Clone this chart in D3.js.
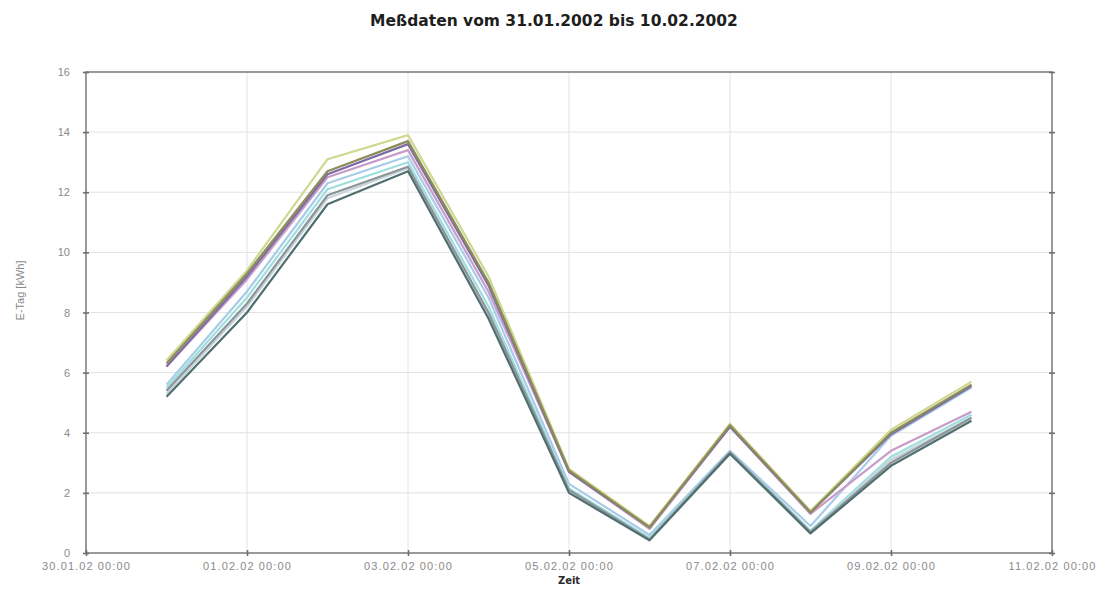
<!DOCTYPE html>
<html>
<head>
<meta charset="utf-8">
<script src="https://cdn.jsdelivr.net/npm/d3@7"></script>
<style>
  html, body { margin: 0; padding: 0; background: #fff; }
  svg { display: block; }
</style>
</head>
<body>
<svg id="chart" width="1101" height="603"></svg>
<script>
// Messtage (täglich 00:00)
const days = ["31.01.2002", "01.02.2002", "02.02.2002", "03.02.2002", "04.02.2002",
              "05.02.2002", "06.02.2002", "07.02.2002", "08.02.2002", "09.02.2002", "10.02.2002"];

// Tagesertrag je Wechselrichter in kWh
const wr1 = [6.4, 9.4, 13.1, 13.9, 9.2, 2.8, 0.9, 4.3, 1.4, 4.1, 5.7];
const wr2 = [6.3, 9.3, 12.7, 13.7, 9.0, 2.75, 0.85, 4.25, 1.35, 4.0, 5.6];
const wr3 = [6.2, 9.2, 12.6, 13.6, 8.9, 2.7, 0.85, 4.2, 1.35, 3.95, 5.55];
const wr4 = [6.2, 9.1, 12.5, 13.4, 8.7, 2.7, 0.8, 4.2, 1.3, 3.4, 4.7];
const wr5 = [5.6, 8.7, 12.3, 13.2, 8.5, 2.3, 0.6, 3.4, 0.9, 3.9, 5.5];
const wr6 = [5.5, 8.5, 12.1, 13.0, 8.2, 2.15, 0.5, 3.35, 0.75, 3.2, 4.6];
const wr7 = [5.4, 8.3, 11.9, 12.85, 8.0, 2.1, 0.45, 3.35, 0.7, 3.0, 4.5];
const wr8 = [5.3, 8.2, 11.8, 12.8, 7.9, 2.05, 0.45, 3.3, 0.7, 3.1, 4.5];
const wr9 = [5.2, 8.0, 11.6, 12.7, 7.8, 2.0, 0.42, 3.3, 0.65, 2.9, 4.4];

const seriesValues = [wr1, wr5, wr6, wr8, wr4, wr3, wr7, wr2, wr9];
const seriesColors = ["#cfd890", "#a8cce8", "#9edede", "#c8d4dc", "#c79cc8", "#7d6ba6", "#8c9498", "#8c8c5a", "#4f6f70"];

// Achsen
const xTickLabels = ["30.01.02 00:00", "01.02.02 00:00", "03.02.02 00:00", "05.02.02 00:00",
                     "07.02.02 00:00", "09.02.02 00:00", "11.02.02 00:00"];
const yTicks = [0, 2, 4, 6, 8, 10, 12, 14, 16];

const titleText = "Meßdaten vom 31.01.2002 bis 10.02.2002";
const xTitle = "Zeit";
const yTitle = "E-Tag [kWh]";

const parseDay = d3.timeParse("%d.%m.%Y");
const parseTick = d3.timeParse("%d.%m.%y %H:%M");
const fmtTick = d3.timeFormat("%d.%m.%y %H:%M");

const svg = d3.select("#chart");
const m = { left: 86, right: 1052, top: 72, bottom: 553 };

const xTickDates = xTickLabels.map(parseTick);
const x = d3.scaleTime()
  .domain([xTickDates[0], xTickDates[xTickDates.length - 1]])
  .range([m.left, m.right]);
const y = d3.scaleLinear().domain([0, 16]).range([m.bottom, m.top]);

// Gitter
const grid = svg.append("g");
grid.selectAll("line.h").data(yTicks.slice(1, -1)).join("line")
  .attr("x1", m.left).attr("x2", m.right)
  .attr("y1", d => y(d)).attr("y2", d => y(d))
  .attr("stroke", "#e2e2e2").attr("stroke-width", 1);
grid.selectAll("line.v").data(xTickDates.slice(1, -1)).join("line")
  .attr("x1", d => x(d)).attr("x2", d => x(d))
  .attr("y1", m.top).attr("y2", m.bottom)
  .attr("stroke", "#e2e2e2").attr("stroke-width", 1);

// Kurven
const dates = days.map(parseDay);
const line = d3.line().x((d, i) => x(dates[i])).y(d => y(d));
svg.append("g").selectAll("path").data(seriesValues).join("path")
  .attr("d", line)
  .attr("fill", "none")
  .attr("stroke", (d, i) => seriesColors[i])
  .attr("stroke-width", 2.2)
  .attr("stroke-linejoin", "round");

// Rahmen und Achsen
const axisColor = "#6e6e6e";
const frame = svg.append("g");
frame.append("rect")
  .attr("x", m.left).attr("y", m.top)
  .attr("width", m.right - m.left).attr("height", m.bottom - m.top)
  .attr("fill", "none").attr("stroke", axisColor).attr("stroke-width", 1.4);

const yAxisL = d3.axisLeft(y).tickValues(yTicks).tickSize(3).tickPadding(13);
const yAxisR = d3.axisRight(y).tickValues(yTicks).tickSize(3).tickFormat("");
const xAxis = d3.axisBottom(x).tickValues(xTickDates).tickSize(3).tickPadding(6).tickFormat(fmtTick);

function styleAxis(g) {
  g.select(".domain").remove();
  g.selectAll(".tick line").attr("stroke", axisColor).attr("stroke-width", 1.6);
  g.selectAll(".tick text").attr("fill", "#8a8a8a")
    .attr("font-family", "Liberation Sans, Arial, sans-serif").attr("font-size", 11);
}

const gl = svg.append("g").attr("transform", `translate(${m.left},0)`).call(yAxisL).call(styleAxis);
gl.selectAll(".tick line").attr("x1", 3).attr("x2", -3);
const gr = svg.append("g").attr("transform", `translate(${m.right},0)`).call(yAxisR).call(styleAxis);
gr.selectAll(".tick line").attr("x1", -3).attr("x2", 3);
const gx = svg.append("g").attr("transform", `translate(0,${m.bottom})`).call(xAxis).call(styleAxis);
gx.selectAll(".tick line").attr("y1", -3).attr("y2", 3);
gx.selectAll(".tick text").attr("letter-spacing", 1.1);

// Titel
svg.append("text")
  .attr("x", 554).attr("y", 26)
  .attr("text-anchor", "middle")
  .attr("font-family", "DejaVu Sans, Verdana, sans-serif")
  .attr("font-weight", "bold").attr("font-size", 15.5)
  .attr("fill", "#1e1e1e")
  .text(titleText);

svg.append("text")
  .attr("x", (m.left + m.right) / 2).attr("y", 584)
  .attr("text-anchor", "middle")
  .attr("font-family", "DejaVu Sans, Verdana, sans-serif")
  .attr("font-weight", "bold").attr("font-size", 10)
  .attr("fill", "#2a2a2a")
  .text(xTitle);

svg.append("text")
  .attr("transform", `translate(24,${(m.top + m.bottom) / 2 - 22}) rotate(-90)`)
  .attr("text-anchor", "middle")
  .attr("font-family", "Liberation Sans, Arial, sans-serif")
  .attr("font-size", 11)
  .attr("fill", "#8a8a8a")
  .text(yTitle);
</script>
</body>
</html>
